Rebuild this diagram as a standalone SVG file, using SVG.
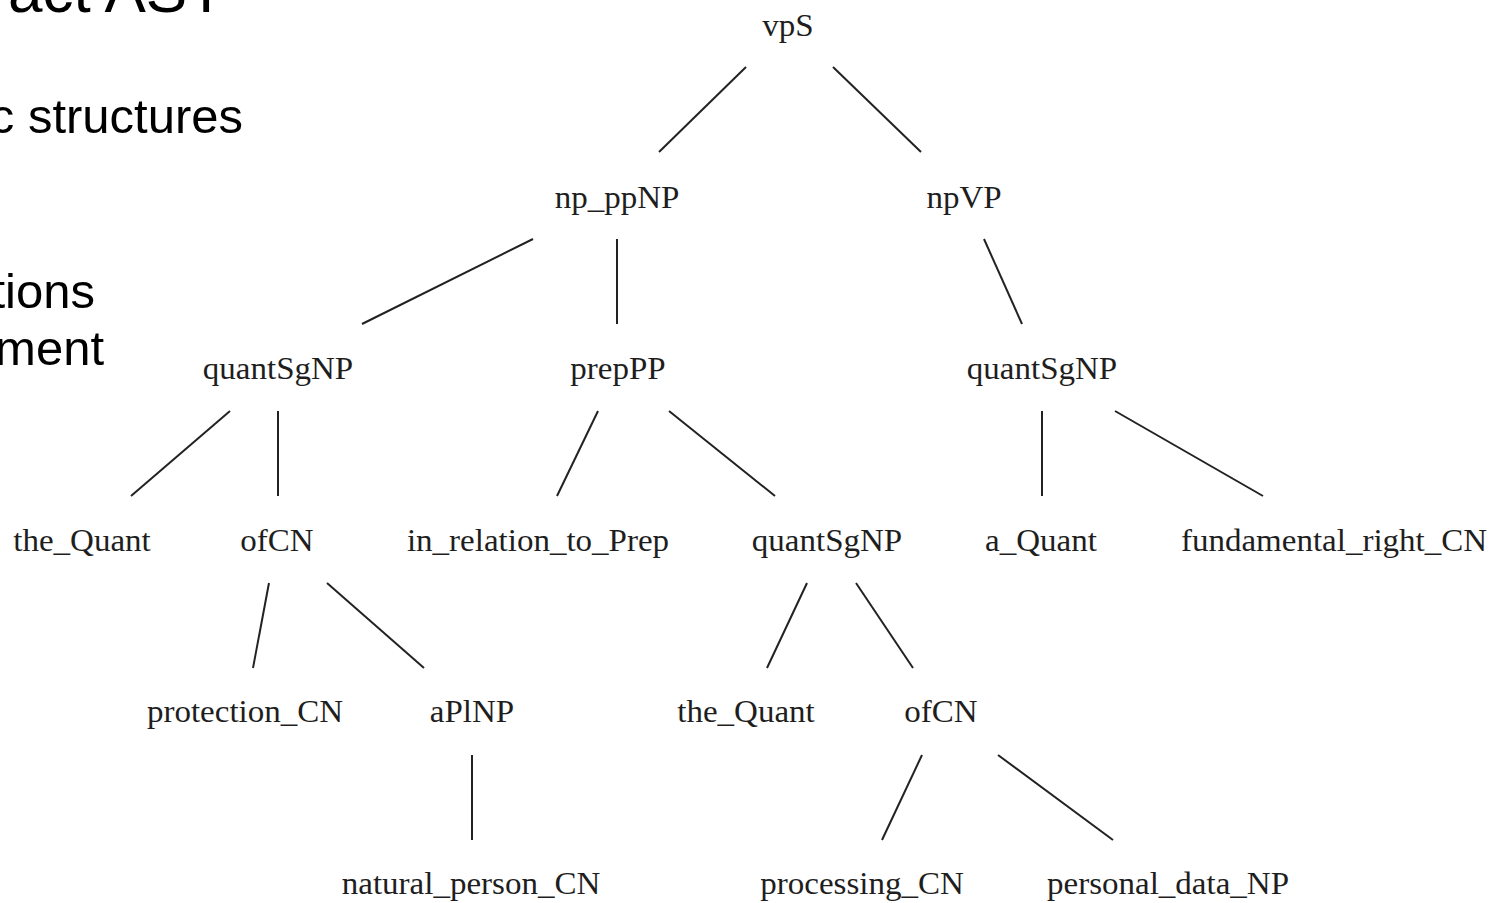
<svg xmlns="http://www.w3.org/2000/svg" width="1495" height="903" viewBox="0 0 1495 903">
<style>
.bg{fill:#ffffff}
.slide{font-family:"Liberation Sans",Arial,sans-serif;fill:#000;text-anchor:end}
.lbl{font-family:"Liberation Serif","Times New Roman",serif;font-size:31px;fill:#1e1e1e;text-anchor:middle}
.edge{stroke:#222;stroke-width:2;stroke-linecap:butt;fill:none}
</style>
<rect class="bg" x="0" y="0" width="1495" height="903"/>
<g id="slide-text">
<text class="slide" x="225" y="12" font-size="62">act AST</text>
<text class="slide" x="243" y="133" font-size="49">c structures</text>
<text class="slide" x="95" y="308" font-size="49">tions</text>
<text class="slide" x="104" y="365" font-size="49">ment</text>
</g>
<g id="connectors">
<line class="edge" x1="746" y1="67" x2="659" y2="152"/>
<line class="edge" x1="833" y1="67" x2="921" y2="152"/>
<line class="edge" x1="533" y1="239" x2="362" y2="324"/>
<line class="edge" x1="617" y1="239" x2="617" y2="324"/>
<line class="edge" x1="984" y1="239" x2="1022" y2="324"/>
<line class="edge" x1="230" y1="411" x2="131" y2="496"/>
<line class="edge" x1="278" y1="411" x2="278" y2="496"/>
<line class="edge" x1="598" y1="411" x2="557" y2="496"/>
<line class="edge" x1="669" y1="411" x2="775" y2="496"/>
<line class="edge" x1="1042" y1="411" x2="1042" y2="496"/>
<line class="edge" x1="1115" y1="411" x2="1263" y2="496"/>
<line class="edge" x1="269" y1="583" x2="253" y2="668"/>
<line class="edge" x1="327" y1="583" x2="424" y2="668"/>
<line class="edge" x1="807" y1="583" x2="767" y2="668"/>
<line class="edge" x1="856" y1="583" x2="913" y2="668"/>
<line class="edge" x1="472" y1="755" x2="472" y2="840"/>
<line class="edge" x1="922" y1="755" x2="882" y2="840"/>
<line class="edge" x1="998" y1="755" x2="1113" y2="840"/>
</g>
<g id="n-vpS"><text class="lbl" transform="translate(788 36) scale(1.065 1)">vpS</text></g>
<g id="n-np_ppNP"><text class="lbl" transform="translate(617 208) scale(1.065 1)">np_ppNP</text></g>
<g id="n-npVP"><text class="lbl" transform="translate(964 208) scale(1.065 1)">npVP</text></g>
<g id="n-quantSgNP-1"><text class="lbl" transform="translate(278 379) scale(1.065 1)">quantSgNP</text></g>
<g id="n-prepPP"><text class="lbl" transform="translate(618 379) scale(1.065 1)">prepPP</text></g>
<g id="n-quantSgNP-2"><text class="lbl" transform="translate(1042 379) scale(1.065 1)">quantSgNP</text></g>
<g id="n-the_Quant-1"><text class="lbl" transform="translate(82 551) scale(1.065 1)">the_Quant</text></g>
<g id="n-ofCN-1"><text class="lbl" transform="translate(277 551) scale(1.065 1)">ofCN</text></g>
<g id="n-in_relation_to_Prep"><text class="lbl" transform="translate(538 551) scale(1.065 1)">in_relation_to_Prep</text></g>
<g id="n-quantSgNP-3"><text class="lbl" transform="translate(827 551) scale(1.065 1)">quantSgNP</text></g>
<g id="n-a_Quant"><text class="lbl" transform="translate(1041 551) scale(1.065 1)">a_Quant</text></g>
<g id="n-fundamental_right_CN"><text class="lbl" transform="translate(1334 551) scale(1.065 1)">fundamental_right_CN</text></g>
<g id="n-protection_CN"><text class="lbl" transform="translate(245 722) scale(1.065 1)">protection_CN</text></g>
<g id="n-aPlNP"><text class="lbl" transform="translate(472 722) scale(1.065 1)">aPlNP</text></g>
<g id="n-the_Quant-2"><text class="lbl" transform="translate(746 722) scale(1.065 1)">the_Quant</text></g>
<g id="n-ofCN-2"><text class="lbl" transform="translate(941 722) scale(1.065 1)">ofCN</text></g>
<g id="n-natural_person_CN"><text class="lbl" transform="translate(471 894) scale(1.065 1)">natural_person_CN</text></g>
<g id="n-processing_CN"><text class="lbl" transform="translate(862 894) scale(1.065 1)">processing_CN</text></g>
<g id="n-personal_data_NP"><text class="lbl" transform="translate(1168 894) scale(1.065 1)">personal_data_NP</text></g>
</svg>
